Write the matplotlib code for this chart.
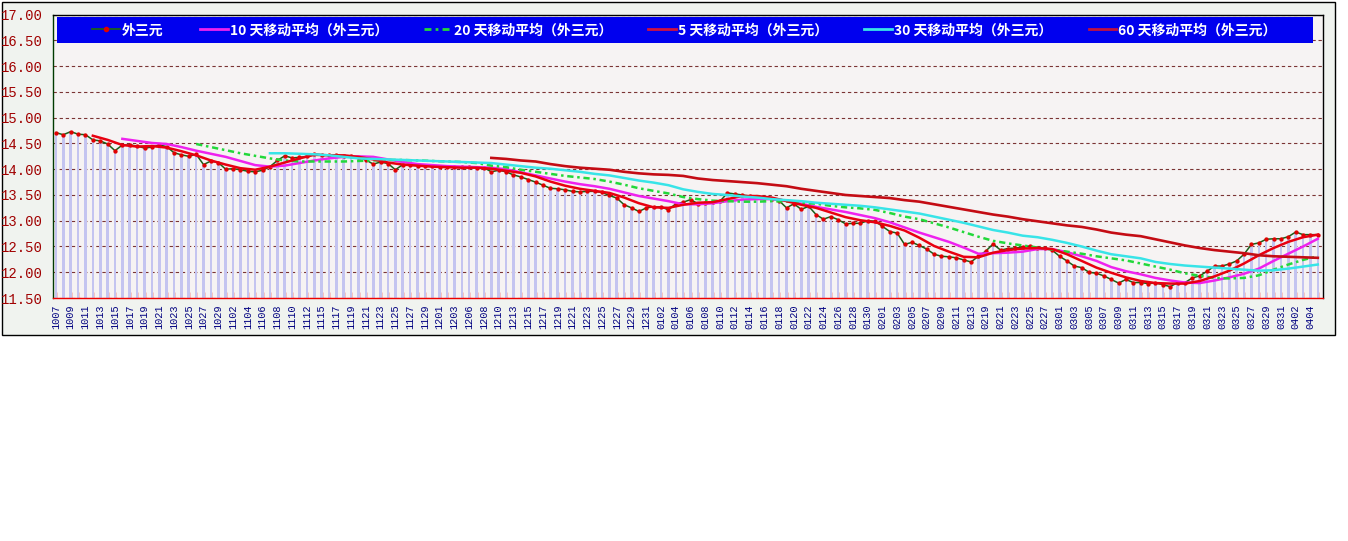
"""
外三元 daily price with 5/10/20/30/60-day moving averages.
"""
import numpy as np
import matplotlib
matplotlib.use('Agg')
import matplotlib.pyplot as plt
from matplotlib.patches import Rectangle
from matplotlib.lines import Line2D

plt.rcParams['font.family'] = ['Noto Sans CJK SC', 'DejaVu Sans']

BLUE = "#0000ee"
FRAME_BG = "#f0f3ef"
PAPER = "#f6f3f3"
BAR = "#c4c4f0"
GRID = "#7a3434"
YLAB = "#a00000"
XLAB = "#000080"

tick_labels = ['1007', '1009', '1011', '1013', '1015', '1017', '1019', '1021', '1023', '1025',
               '1027', '1029', '1102', '1104', '1106', '1108', '1110', '1112', '1115', '1117',
               '1119', '1121', '1123', '1125', '1127', '1129', '1201', '1203', '1206', '1208',
               '1210', '1213', '1215', '1217', '1219', '1221', '1223', '1225', '1227', '1229',
               '1231', '0102', '0104', '0106', '0108', '0110', '0112', '0114', '0116', '0118',
               '0120', '0122', '0124', '0126', '0128', '0130', '0201', '0203', '0205', '0207',
               '0209', '0211', '0213', '0219', '0221', '0223', '0225', '0227', '0301', '0303',
               '0305', '0307', '0309', '0311', '0313', '0315', '0317', '0319', '0321', '0323',
               '0325', '0327', '0329', '0331', '0402', '0404']

# daily price of 外三元 (one value per trading day)
price = [14.71, 14.67, 14.73, 14.68, 14.67, 14.57, 14.55, 14.49, 14.36, 14.47,
         14.47, 14.45, 14.41, 14.43, 14.47, 14.44, 14.32, 14.28, 14.25, 14.29,
         14.09, 14.16, 14.13, 14.00, 14.01, 13.99, 13.96, 13.95, 13.98, 14.05,
         14.17, 14.26, 14.22, 14.23, 14.25, 14.30, 14.28, 14.27, 14.27, 14.26,
         14.25, 14.22, 14.18, 14.10, 14.14, 14.11, 13.99, 14.09, 14.08, 14.07,
         14.07, 14.06, 14.05, 14.05, 14.04, 14.05, 14.04, 14.03, 14.03, 13.95,
         13.98, 13.95, 13.89, 13.85, 13.80, 13.75, 13.69, 13.63, 13.62, 13.60,
         13.57, 13.56, 13.57, 13.57, 13.55, 13.49, 13.44, 13.31, 13.25, 13.18,
         13.25, 13.27, 13.27, 13.21, 13.33, 13.36, 13.41, 13.33, 13.35, 13.36,
         13.38, 13.54, 13.52, 13.50, 13.48, 13.46, 13.44, 13.42, 13.39, 13.25,
         13.33, 13.22, 13.28, 13.12, 13.03, 13.08, 13.02, 12.94, 12.95, 12.95,
         13.00, 12.99, 12.89, 12.79, 12.76, 12.54, 12.58, 12.52, 12.45, 12.35,
         12.31, 12.30, 12.28, 12.24, 12.20, 12.31, 12.41, 12.55, 12.43, 12.46,
         12.47, 12.49, 12.51, 12.47, 12.47, 12.43, 12.31, 12.22, 12.12, 12.09,
         12.00, 11.98, 11.93, 11.86, 11.79, 11.86, 11.80, 11.80, 11.78, 11.79,
         11.76, 11.72, 11.80, 11.80, 11.89, 11.93, 12.02, 12.12, 12.12, 12.16,
         12.22, 12.35, 12.54, 12.57, 12.64, 12.65, 12.65, 12.69, 12.78, 12.73,
         12.73, 12.73]

# moving averages, read every second day from their first day on
ma5_first = 5
ma5 = [14.65, 14.57, 14.47, 14.44, 14.45, 14.42, 14.35, 14.27, 14.17, 14.09,
       14.02, 13.99, 14.05, 14.13, 14.21, 14.28, 14.27, 14.27, 14.24, 14.19,
       14.13, 14.09, 14.07, 14.05, 14.04, 14.03, 14.03, 14.01, 13.97, 13.93,
       13.86, 13.76, 13.68, 13.62, 13.58, 13.54, 13.45, 13.34, 13.26, 13.25,
       13.31, 13.35, 13.36, 13.42, 13.48, 13.48, 13.45, 13.38, 13.31, 13.25,
       13.16, 13.07, 13.01, 12.97, 12.90, 12.81, 12.67, 12.51, 12.40, 12.30,
       12.29, 12.38, 12.43, 12.46, 12.47, 12.45, 12.35, 12.22, 12.09, 11.99,
       11.90, 11.83, 11.79, 11.78, 11.78, 11.83, 11.92, 12.03, 12.17, 12.33,
       12.47, 12.59, 12.68, 12.73]

ma10_first = 9
ma10 = [14.59, 14.55, 14.51, 14.49, 14.43, 14.36, 14.30, 14.24, 14.16, 14.08,
        14.05, 14.07, 14.12, 14.17, 14.21, 14.24, 14.25, 14.24, 14.19, 14.14,
        14.10, 14.08, 14.06, 14.05, 14.04, 14.03, 14.00, 13.94, 13.88, 13.82,
        13.76, 13.71, 13.67, 13.62, 13.55, 13.48, 13.43, 13.38, 13.32, 13.32,
        13.34, 13.38, 13.41, 13.42, 13.42, 13.39, 13.33, 13.27, 13.22, 13.17,
        13.11, 13.05, 12.97, 12.87, 12.77, 12.68, 12.59, 12.48, 12.36, 12.37,
        12.38, 12.40, 12.45, 12.45, 12.39, 12.31, 12.22, 12.10, 12.02, 11.96,
        11.89, 11.84, 11.80, 11.79, 11.84, 11.90, 11.97, 12.07, 12.22, 12.36,
        12.50, 12.65]

ma20_first = 19
ma20 = [14.49, 14.43, 14.37, 14.31, 14.26, 14.21, 14.17, 14.15, 14.15, 14.15,
        14.15, 14.16, 14.17, 14.18, 14.18, 14.17, 14.16, 14.15, 14.14, 14.12,
        14.07, 14.04, 13.99, 13.95, 13.91, 13.87, 13.84, 13.81, 13.76, 13.70,
        13.63, 13.58, 13.53, 13.46, 13.42, 13.39, 13.38, 13.37, 13.37, 13.38,
        13.37, 13.35, 13.33, 13.29, 13.26, 13.24, 13.21, 13.15, 13.08, 13.03,
        12.95, 12.87, 12.78, 12.69, 12.61, 12.56, 12.52, 12.48, 12.44, 12.40,
        12.36, 12.31, 12.27, 12.23, 12.17, 12.11, 12.05, 11.98, 11.93, 11.89,
        11.88, 11.89, 11.94, 12.05, 12.15, 12.24, 12.31]

ma30_first = 29
ma30 = [14.31, 14.31, 14.30, 14.29, 14.27, 14.24, 14.21, 14.20, 14.19, 14.18,
        14.17, 14.16, 14.15, 14.14, 14.13, 14.12, 14.09, 14.06, 14.03, 14.01,
        13.98, 13.95, 13.91, 13.88, 13.83, 13.78, 13.74, 13.69, 13.61, 13.56,
        13.52, 13.50, 13.47, 13.45, 13.42, 13.40, 13.38, 13.35, 13.33, 13.31,
        13.29, 13.26, 13.22, 13.18, 13.14, 13.08, 13.02, 12.96, 12.89, 12.82,
        12.77, 12.71, 12.68, 12.63, 12.57, 12.50, 12.42, 12.35, 12.31, 12.27,
        12.20, 12.16, 12.13, 12.11, 12.09, 12.07, 12.05, 12.03, 12.04, 12.07,
        12.11, 12.15]

ma60_first = 59
ma60 = [14.22, 14.20, 14.17, 14.15, 14.10, 14.06, 14.03, 14.01, 13.99, 13.95,
        13.92, 13.90, 13.89, 13.87, 13.82, 13.79, 13.77, 13.75, 13.73, 13.70,
        13.67, 13.62, 13.58, 13.54, 13.50, 13.48, 13.46, 13.44, 13.40, 13.37,
        13.32, 13.27, 13.22, 13.17, 13.12, 13.08, 13.03, 12.99, 12.95, 12.91,
        12.88, 12.83, 12.77, 12.73, 12.70, 12.64, 12.58, 12.52, 12.47, 12.43,
        12.40, 12.37, 12.33, 12.31, 12.30, 12.29, 12.28]

Y_MIN, Y_MAX = 11.5, 17.0

W, H = 1348, 541
fig = plt.figure(figsize=(W / 100, H / 100), dpi=100, facecolor='white')

# light outer frame of the chart image
fig.add_artist(Rectangle((2 / W, 1 - 335 / H), 1333 / W, 333 / H, transform=fig.transFigure,
                         facecolor=FRAME_BG, edgecolor='black', linewidth=1, zorder=-2))

ax = fig.add_axes([53 / W, 1 - 298 / H, 1270 / W, 283.3 / H])
ax.set_facecolor(PAPER)

x = np.arange(len(price))
ax.bar(x, np.array(price) - Y_MIN, bottom=Y_MIN, width=0.35, color=BAR, zorder=1)

ax.plot(x, price, color='#1a601a', lw=1.1, marker='o', ms=2.1, mfc='#e00000', mec='#e00000',
        zorder=3)


def ma_x(first, vals):
    return first + 2 * np.arange(len(vals))


ax.plot(ma_x(ma10_first, ma10), ma10, color='#ee22ee', lw=1.8, zorder=4)
ax.plot(ma_x(ma20_first, ma20), ma20, color='#22d83a', lw=1.8, ls=(0, (2.5, 1.5, 1, 1.5)), zorder=4)
ax.plot(ma_x(ma5_first, ma5), ma5, color='#e80010', lw=1.8, zorder=4)
ax.plot(ma_x(ma30_first, ma30), ma30, color='#38e4e8', lw=1.8, zorder=4)
ax.plot(ma_x(ma60_first, ma60), ma60, color='#c40c14', lw=1.9, zorder=4)

ax.set_xlim(-0.4, len(price) - 0.3)
ax.set_ylim(Y_MIN, Y_MAX)

ax.set_yticks(np.arange(Y_MIN, Y_MAX + 0.01, 0.5))
ax.set_yticklabels([f'{v:.2f}' for v in np.arange(Y_MIN, Y_MAX + 0.01, 0.5)],
                   family='Liberation Mono', fontsize=10, color=YLAB)
ax.tick_params(axis='y', length=0, pad=7)
ax.yaxis.grid(True, color=GRID, lw=0.8, ls=(0, (3, 2.5)))
ax.set_axisbelow(True)

ax.set_xticks(x)
ax.set_xticklabels([tick_labels[i // 2] if i % 2 == 0 else '' for i in x],
                   family='Liberation Mono', fontsize=7.4, color=XLAB, rotation=90)
ax.tick_params(axis='x', direction='in', length=4, width=1, color='#ee0000', pad=5)

ax.spines['left'].set_color('#003a00')
ax.spines['top'].set_color('black')
ax.spines['right'].set_color('black')
ax.spines['bottom'].set_color('#ee0000')
for s in ax.spines.values():
    s.set_linewidth(1)

# legend on a blue band
fig.add_artist(Rectangle((57 / W, 1 - 43.3 / H), 1255.7 / W, 26 / H, transform=fig.transFigure,
                         facecolor=BLUE, edgecolor='none', zorder=1))
handles = [
    Line2D([0, 0.5, 1], [0, 0, 0], color='#1a601a', lw=1.3, marker='o', ms=3, mfc='#e00000',
           mec='#e00000', markevery=[1]),
    Line2D([], [], color='#ee22ee', lw=2),
    Line2D([], [], color='#22d83a', lw=2, ls=(0, (2.5, 1.5, 1, 1.5))),
    Line2D([], [], color='#d01040', lw=2),
    Line2D([], [], color='#38e4e8', lw=2),
    Line2D([], [], color='#c01040', lw=2),
]
labels = ['外三元', '10 天移动平均（外三元）', '20 天移动平均（外三元）', '5 天移动平均（外三元）',
          '30 天移动平均（外三元）', '60 天移动平均（外三元）']
leg = fig.legend(handles, labels, loc='center', bbox_to_anchor=(684.5 / W, 1 - 30.3 / H), ncol=6,
                 frameon=False, handlelength=2.0, handletextpad=0.15, columnspacing=2.6,
                 prop={'weight': 'bold', 'size': 10}, labelcolor='white')
leg.set_zorder(5)

fig.savefig('out.png', dpi=100, facecolor='white')
